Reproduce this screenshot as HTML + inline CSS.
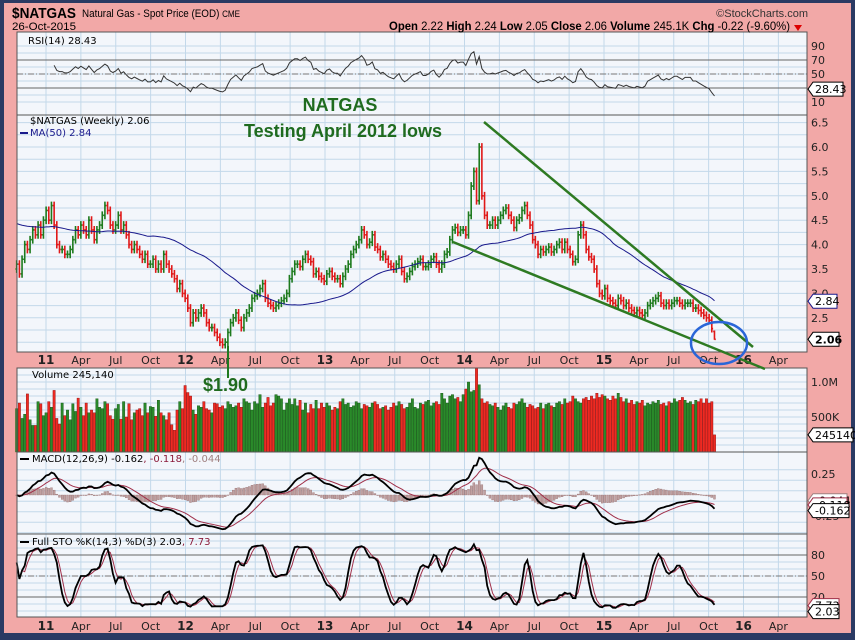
<!DOCTYPE html>
<html><head><meta charset="utf-8">
<style>
html,body{margin:0;padding:0;background:#2b3a63;}
svg{display:block;}
text{font-family:"DejaVu Sans",sans-serif;}
.n{font-family:"Liberation Sans",sans-serif;}
.a{font-family:"Liberation Sans",sans-serif;}
</style></head>
<body>
<svg id="chart" width="855" height="640" viewBox="0 0 855 640" xmlns="http://www.w3.org/2000/svg">
<rect x="0" y="0" width="855" height="640" fill="#2b3a63"/>
<rect x="4" y="3" width="847" height="630" fill="#f2a8a7"/>
<g id="plots"></g>
<g id="grid"></g>
<g id="marks"></g>
<g id="axes"></g>
<g id="borders"></g>
<!-- header -->
<text class="n" x="12" y="18" font-size="15" font-weight="bold" fill="#000" textLength="64" lengthAdjust="spacingAndGlyphs">$NATGAS</text>
<text class="n" x="82" y="17" font-size="11" fill="#000" textLength="158" lengthAdjust="spacingAndGlyphs">Natural Gas - Spot Price (EOD) <tspan font-size="9">CME</tspan></text>
<text class="n" x="12" y="30" font-size="11" fill="#000" textLength="64" lengthAdjust="spacingAndGlyphs">26-Oct-2015</text>
<text class="n" x="808" y="17" font-size="11" fill="#333" text-anchor="end">©StockCharts.com</text>
<text class="n" x="389" y="30" font-size="12" fill="#000" textLength="401" lengthAdjust="spacingAndGlyphs"><tspan font-weight="bold">Open</tspan> 2.22 <tspan font-weight="bold">High</tspan> 2.24 <tspan font-weight="bold">Low</tspan> 2.05 <tspan font-weight="bold">Close</tspan> 2.06 <tspan font-weight="bold">Volume</tspan> 245.1K <tspan font-weight="bold">Chg</tspan> -0.22 (-9.60%)</text>
<polygon points="794,25 802,25 798,31" fill="#d00"/>
<!-- legends -->
<text x="28" y="44" font-size="10" fill="#000">RSI(14) 28.43</text>
<text x="30" y="124" font-size="10" fill="#000">$NATGAS (Weekly) 2.06</text>
<line x1="20" y1="133" x2="28" y2="133" stroke="#1a1a8c" stroke-width="2"/>
<text x="30" y="136" font-size="10" fill="#1a1a8c">MA(50) 2.84</text>
<text x="32" y="378" font-size="10" fill="#000">Volume 245,140</text>
<line x1="20" y1="459" x2="29" y2="459" stroke="#000" stroke-width="2"/>
<text x="32" y="462" font-size="10" fill="#000">MACD(12,26,9) -0.162<tspan fill="#8b1a3a">, -0.118</tspan><tspan fill="#a08080">, -0.044</tspan></text>
<line x1="20" y1="542" x2="29" y2="542" stroke="#000" stroke-width="2"/>
<text x="32" y="545" font-size="10" fill="#000">Full STO %K(14,3) %D(3) 2.03<tspan fill="#8b1a3a">, 7.73</tspan></text>
<!-- annotations -->
<text class="a" x="340" y="111" font-size="18" font-weight="bold" fill="#1f6b1f" text-anchor="middle">NATGAS</text>
<text class="a" x="343" y="137" font-size="18" font-weight="bold" fill="#1f6b1f" text-anchor="middle">Testing April 2012 lows</text>
<line x1="228" y1="346" x2="228" y2="378" stroke="#1f7a1f" stroke-width="2"/>
<text class="a" x="203" y="391" font-size="18" font-weight="bold" fill="#1f6b1f">$1.90</text>
<line x1="484" y1="122" x2="753" y2="347" stroke="#2e7a22" stroke-width="2.5"/>
<line x1="453" y1="242" x2="765" y2="369" stroke="#2e7a22" stroke-width="2.5"/>
<ellipse cx="719" cy="343" rx="28" ry="21" fill="none" stroke="#2a66d8" stroke-width="2.5"/>
<g id="tags"></g>
</svg>
<script>
// ---- data ----
const startYear = 2010.79;
const closes = [3.6,3.4,3.7,4.0,3.9,4.1,4.3,4.2,4.4,4.2,4.5,
4.7,4.5,4.8,4.4, 4.0,3.9,3.9,3.8, 3.8,3.9,4.1,4.3,4.2, 4.4,4.3,4.2,4.5, 4.3,4.1,4.3,4.4, 4.6,4.8,4.7,4.4,4.3, 4.4,4.6,4.3,4.4, 4.2,4.0,3.9,4.0, 3.9,3.8,3.7,3.8,3.6, 3.6,3.7,3.5,3.6, 3.5,3.8,3.6,3.5, 3.4,3.3,3.1,3.2,3.0,
2.9,2.7,2.4,2.6, 2.5,2.6,2.7,2.6, 2.4,2.3,2.3,2.2,2.1, 2.0,1.95,2.0,2.2, 2.4,2.5,2.6,2.45, 2.3,2.5,2.6,2.7,2.9, 2.95,3.0,3.1,3.2, 2.9,2.8,2.75,2.7, 2.75,2.8,2.85,2.9,3.0, 3.3,3.45,3.6,3.6, 3.55,3.7,3.8,3.7, 3.65,3.4,3.45,3.35,3.3,
3.25,3.4,3.45,3.35, 3.3,3.3,3.2,3.35, 3.5,3.6,3.8,3.9,4.0, 4.1,4.3,4.2,4.0, 4.05,4.2,3.95,3.9, 3.75,3.8,3.7,3.6,3.55, 3.5,3.6,3.7,3.45, 3.3,3.35,3.45,3.55, 3.6,3.65,3.7,3.55,3.55, 3.6,3.7,3.75,3.6, 3.5,3.6,3.8,3.85, 4.1,4.3,4.35,4.25,4.3,
4.3,4.2,4.6,5.2, 5.5,4.9,6.0,5.0, 4.6,4.4,4.4,4.5,4.4, 4.5,4.6,4.7,4.75, 4.6,4.5,4.35,4.5, 4.55,4.7,4.8,4.6,4.4, 4.1,4.0,3.8,3.9, 3.85,3.9,3.95,3.85, 3.9,4.0,4.05,3.9,4.05, 3.9,3.8,3.65,3.7, 4.2,4.4,4.2,3.9, 3.75,3.7,3.5,3.2,3.0,
2.95,3.1,2.9,2.85, 2.8,2.75,2.9,2.85, 2.75,2.8,2.7,2.65,2.6, 2.65,2.6,2.55,2.6, 2.75,2.8,2.85,2.9, 2.95,2.8,2.75,2.8,2.75, 2.8,2.85,2.85,2.8, 2.75,2.8,2.8,2.8, 2.7,2.7,2.65,2.6,2.55, 2.5,2.45,2.28,2.06];
const volumesK = [620,700,480,540,830,460,380,380,720,690,520,
560,720,640,880,480,400,700,520,600,460,690,580,770,640,520,700,560,600,560,760,640,620,720,690,520,470,620,680,470,720,500,690,460,560,600,620,520,700,560,650,640,510,740,560,520,460,560,390,310,600,720,620,
950,850,800,600,540,660,640,720,620,600,560,700,690,640,660,620,720,680,640,660,700,640,760,720,700,600,720,690,820,640,700,780,660,700,820,800,760,600,700,760,680,760,660,740,600,700,560,680,620,740,620,700,
640,700,660,600,640,620,720,760,680,700,640,660,720,700,620,680,660,640,700,720,680,620,640,660,600,640,700,660,720,680,620,640,700,760,640,620,700,680,720,740,660,700,720,680,840,760,700,800,820,760,780,720,
820,900,1000,860,880,1200,960,760,700,720,680,660,700,640,600,660,700,640,620,700,680,720,760,700,640,680,660,620,640,700,620,680,700,660,640,700,720,680,760,700,720,800,760,720,700,760,780,740,800,760,840,780,
820,800,760,740,800,760,840,780,720,760,700,740,680,720,700,740,660,700,680,720,700,740,680,700,660,720,700,760,720,740,780,740,700,720,680,740,720,760,700,760,700,720,245];
const yearLabels = ["11","12","13","14","15","16"];
const monthLabels = ["Apr","Jul","Oct"];
const priceTicks = [6.5,6.0,5.5,5.0,4.5,4.0,3.5,3.0,2.5];
const rsiTicks = [90,70,50,10];
const stoTicks = [80,50,20];
const macdTicks = [0.25,-0.25];
const volTicks = [1000,500];
const volTickLabels = ["1.0M","500K"];
const maSeed = 4.45;

// ---- geometry ----
const L=17,R=807;
const P={rsi:[32,115],price:[115,352],vol:[368,452],macd:[452,534],sto:[534,617]};
const xOfT=t=>46+(t-2011)*139.5;
const xOf=i=>xOfT(startYear+i/52.18);
const yPrice=p=>147+(6.0-p)*48.8;
const yRsi=v=>74-(v-50)*0.7;
const ySto=v=>576-(v-50)*0.7;
const yMacd=v=>495-v*84;
const yVol=v=>452-v*0.07;
const NS="http://www.w3.org/2000/svg";
function mk(tag,attrs,parent){const e=document.createElementNS(NS,tag);for(const k in attrs)e.setAttribute(k,attrs[k]);document.getElementById(parent).appendChild(e);return e;}

for(const k in P){
  const r=mk('rect',{x:L,y:P[k][0],width:R-L,height:P[k][1]-P[k][0],fill:'#f3f6fb'},'plots');
  
  
}
const quarters=[];
for(let y=2010;y<=2016;y++)for(let q=0;q<4;q++){const t=y+q*0.25;if(t>=2010.8&&t<=2016.35)quarters.push(t);}
for(const t of quarters){
  const x=xOfT(t);
  for(const k in P){
    const g=mk('line',{x1:x,x2:x,y1:P[k][0],y2:P[k][1],stroke:'#c3d8ea','stroke-width':1},'grid');
    
    
  }
}
function hline(y,color,dash,name,w){
  const g=mk('line',{x1:L,x2:R,y1:y,y2:y,stroke:color,'stroke-width':w||1,'stroke-dasharray':dash||'none'},'grid');
  
  
}
for(let v=10;v<=90;v+=10)hline(yRsi(v),'#c3d8ea','', 'rsi-grid-line');
hline(yRsi(70),'#666','', 'rsi-70-line');hline(yRsi(30),'#666','', 'rsi-30-line');hline(yRsi(50),'#777','6,2,1,2','rsi-50-line');
for(let p=2.0;p<=6.5;p+=0.25)hline(yPrice(p),'#c3d8ea','', 'price-grid-line');
for(let v=100;v<=1100;v+=100)hline(yVol(v),'#c3d8ea','', 'volume-grid-line');
for(let v=-0.45;v<=0.4;v+=0.125)hline(yMacd(v),'#c3d8ea','', 'macd-grid-line');
for(let v=0;v<=100;v+=10)hline(ySto(v),'#c3d8ea','', 'sto-grid-line');
hline(ySto(80),'#666','', 'sto-80-line');hline(ySto(20),'#666','', 'sto-20-line');hline(ySto(50),'#777','6,2,1,2','sto-50-line');

const opens=closes.map((c,i)=>i===0?c-0.1:closes[i-1]);
const highs=closes.map((c,i)=>Math.max(c,opens[i])+0.08);
const lows=closes.map((c,i)=>Math.min(c,opens[i])-0.08);
highs[closes.length-1]=2.24;lows[closes.length-1]=2.05;opens[closes.length-1]=2.22;
const ma=closes.map((c,i)=>{let s=0;for(let j=i-49;j<=i;j++)s+=j<0?maSeed:closes[j];return s/50;});
const rsi=[];{let ag=0,al=0;for(let i=1;i<closes.length;i++){const d=closes[i]-closes[i-1];const g=Math.max(d,0),l=Math.max(-d,0);if(i<=14){ag+=g/14;al+=l/14;}else{ag=(ag*13+g)/14;al=(al*13+l)/14;}if(i>=14)rsi[i]=al===0?100:100-100/(1+ag/al);}}
function ema(a,n){const k=2/(n+1);const o=[];a.forEach((v,i)=>o[i]=i===0?v:v*k+o[i-1]*(1-k));return o;}
const e12=ema(closes,12),e26=ema(closes,26);
const macd=closes.map((c,i)=>e12[i]-e26[i]);
const sig=ema(macd,9);
const rawK=closes.map((c,i)=>{let hh=-1e9,ll=1e9;for(let j=Math.max(0,i-13);j<=i;j++){hh=Math.max(hh,highs[j]);ll=Math.min(ll,lows[j]);}return (c-ll)/(hh-ll)*100;});
const sma=(a,n)=>a.map((v,i)=>{let s=0,c=0;for(let j=Math.max(0,i-n+1);j<=i;j++){s+=a[j];c++;}return s/c;});
const stoK=sma(rawK,3),stoD=sma(stoK,3);

closes.forEach((c,i)=>{
  const x=xOf(i),up=c>=opens[i],col=up?'#1d7a1d':'#e01818';
  const b=mk('path',{d:`M${x},${yPrice(highs[i])}V${yPrice(lows[i])}M${x-1.3},${yPrice(opens[i])}H${x}M${x},${yPrice(c)}H${x+1.3}`,stroke:col,'stroke-width':1.6,fill:'none'},'marks');
  
  
  const v=mk('rect',{x:x-1.2,y:yVol(volumesK[i]),width:2.4,height:452-yVol(volumesK[i]),fill:up?'#2a8a2a':'#ee2a22',stroke:up?'#145214':'#8a1010','stroke-width':0.4},'marks');
  
  
  const hh=macd[i]-sig[i];
  const h=mk('rect',{x:x-1,y:Math.min(yMacd(hh),yMacd(0)),width:2,height:Math.max(0.5,Math.abs(yMacd(hh)-yMacd(0))),fill:'#c0a0a0',stroke:'#8a6060','stroke-width':0.3},'marks');
  
  
});
function poly(arr,yf,start,col,w,name){
  let d='';for(let i=start;i<arr.length;i++){if(arr[i]===undefined)continue;d+=(d?'L':'M')+xOf(i).toFixed(1)+','+yf(arr[i]).toFixed(1);}
  const p=mk('path',{d:d,stroke:col,'stroke-width':w,fill:'none'},'marks');
  
  
}
poly(ma,yPrice,0,'#1a1a8c',1,'ma50-line');
poly(rsi,yRsi,14,'#333',1,'rsi-line');
poly(sig,yMacd,0,'#a0304a',1,'macd-signal-line');
poly(macd,yMacd,0,'#000',1.8,'macd-line');
poly(stoD,ySto,2,'#a0304a',1,'sto-d-line');
poly(stoK,ySto,0,'#000',1.8,'sto-k-line');

function txt(x,y,s,opts,name){
  const t=mk('text',Object.assign({x:x,y:y,'font-size':11,fill:'#222'},opts||{}),'axes');t.textContent=s;
  
  
}
[364,630].forEach(yy=>{
  yearLabels.forEach((s,k)=>txt(xOfT(2011+k),yy,s,{'text-anchor':'middle','font-weight':'bold','font-size':12},'x-axis-year-label'));
  for(let y=2010;y<=2016;y++)monthLabels.forEach((s,k)=>{const t=y+0.25*(k+1);if(t>=2010.8&&t<=2016.3)txt(xOfT(t),yy,s,{'text-anchor':'middle'},'x-axis-month-label');});
});
rsiTicks.forEach(v=>txt(811,yRsi(v)+4,String(v),{},'rsi-tick-label'));
priceTicks.forEach(v=>txt(811,yPrice(v)+4,v.toFixed(1),{},'price-tick-label'));
volTicks.forEach((v,k)=>txt(811,yVol(v)+4,volTickLabels[k],{},'volume-tick-label'));
macdTicks.forEach(v=>txt(811,yMacd(v)+4,v.toFixed(2),{},'macd-tick-label'));
stoTicks.forEach(v=>txt(811,ySto(v)+4,String(v),{},'sto-tick-label'));

for(const k in P){
  const b=mk('rect',{x:L,y:P[k][0],width:R-L,height:P[k][1]-P[k][0],fill:'none',stroke:'#555','stroke-width':1},'borders');
  
  
}
function tag(y,s,col,bold,w,name){
  const g=mk('path',{d:`M808,${y}l5,-7h${w}v14h-${w}z`,fill:'#fff',stroke:col,'stroke-width':1},'tags');
  
  
  const t=mk('text',{x:815,y:y+4,'font-size':11,fill:'#000','font-weight':bold?'bold':'normal'},'tags');t.textContent=s;
  
  
}
tag(yRsi(28.43),'28.43','#000',false,30,'rsi-value-tag');
tag(yPrice(2.84),'2.84','#1a1a8c',false,24,'ma-value-tag');
tag(yPrice(2.06),'2.06','#000',true,26,'price-value-tag');
tag(yVol(245),'245140.0','#000',false,40,'volume-value-tag');
tag(yMacd(-0.044)+2,'-0.044','#a08080',false,34,'macd-hist-tag');
tag(yMacd(-0.118),'-0.118','#a0304a',false,34,'macd-signal-tag');
tag(yMacd(-0.162)+2,'-0.162','#000',false,36,'macd-value-tag');
tag(ySto(7.73),'7.73','#a0304a',false,26,'sto-d-tag');
tag(ySto(2.03)+2,'2.03','#000',false,26,'sto-k-tag');
</script>
</body></html>
